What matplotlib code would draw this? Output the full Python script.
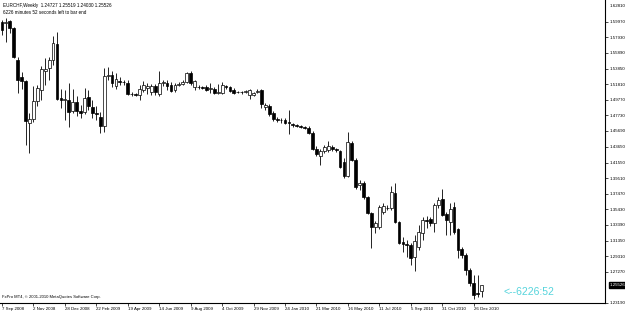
import matplotlib
matplotlib.use("Agg")
import matplotlib.pyplot as plt
import numpy as np

# weekly EURCHF bars, 7 Sep 2008 .. 9 Jan 2011
opens = [1.5993, 1.5980, 1.6006, 1.5915, 1.5496, 1.5274, 1.5222, 1.4673, 1.4725, 1.4960,
         1.5104, 1.5353, 1.5392, 1.5496, 1.5706, 1.4999, 1.4973, 1.4973, 1.4830, 1.4947,
         1.4830, 1.4817, 1.5012, 1.4882, 1.4804, 1.4751, 1.4633, 1.5287, 1.5300, 1.5157,
         1.5222, 1.5209, 1.5196, 1.5052, 1.5052, 1.5039, 1.5104, 1.5130, 1.5078, 1.5157,
         1.5052, 1.5196, 1.5196, 1.5170, 1.5104, 1.5170, 1.5183, 1.5209, 1.5326, 1.5143,
         1.5143, 1.5143, 1.5143, 1.5117, 1.5117, 1.5065, 1.5065, 1.5157, 1.5143, 1.5104,
         1.5078, 1.5078, 1.5078, 1.5039, 1.5039, 1.5078, 1.5104, 1.4882, 1.4895, 1.4804,
         1.4725, 1.4712, 1.4712, 1.4686, 1.4660, 1.4646, 1.4633, 1.4620, 1.4607, 1.4542,
         1.4333, 1.4241, 1.4307, 1.4320, 1.4359, 1.4333, 1.4307, 1.4162, 1.3979, 1.4411,
         1.4189, 1.3862, 1.3888, 1.3705, 1.3496, 1.3313, 1.3313, 1.3509, 1.3561, 1.3561,
         1.3757, 1.3378, 1.3116, 1.3090, 1.3077, 1.2920, 1.3051, 1.3234, 1.3404, 1.3417,
         1.3365, 1.3600, 1.3679, 1.3483, 1.3378, 1.3574, 1.3286, 1.3025, 1.2946, 1.2750,
         1.2580, 1.2450, 1.24727]
highs = [1.6019, 1.6045, 1.6019, 1.5928, 1.5535, 1.5340, 1.5235, 1.4804, 1.5157, 1.5170,
         1.5418, 1.5522, 1.5535, 1.5811, 1.5863, 1.5117, 1.5104, 1.5196, 1.5117, 1.5026,
         1.4908, 1.5130, 1.5104, 1.4973, 1.4895, 1.4817, 1.5392, 1.5405, 1.5353, 1.5326,
         1.5274, 1.5235, 1.5235, 1.5078, 1.5065, 1.5170, 1.5222, 1.5196, 1.5183, 1.5183,
         1.5353, 1.5235, 1.5235, 1.5209, 1.5196, 1.5209, 1.5235, 1.5340, 1.5353, 1.5235,
         1.5170, 1.5157, 1.5170, 1.5196, 1.5143, 1.5183, 1.5209, 1.5170, 1.5157, 1.5130,
         1.5091, 1.5091, 1.5104, 1.5117, 1.5078, 1.5117, 1.5117, 1.4934, 1.4921, 1.4830,
         1.4751, 1.4738, 1.4738, 1.4843, 1.4673, 1.4660, 1.4646, 1.4633, 1.4633, 1.4568,
         1.4372, 1.4333, 1.4385, 1.4437, 1.4385, 1.4346, 1.4320, 1.4215, 1.4555, 1.4437,
         1.4215, 1.3927, 1.3914, 1.3718, 1.3509, 1.3391, 1.3600, 1.3626, 1.3600, 1.3849,
         1.3888, 1.3391, 1.3182, 1.3143, 1.3103, 1.3208, 1.3339, 1.3443, 1.3456, 1.3443,
         1.3626, 1.3705, 1.3809, 1.3509, 1.3626, 1.3639, 1.3299, 1.3051, 1.2972, 1.2776,
         1.2685, 1.2685, 1.25519]
lows = [1.5824, 1.5732, 1.5850, 1.5522, 1.5065, 1.5117, 1.4385, 1.4281, 1.4686, 1.4895,
        1.4973, 1.5170, 1.5235, 1.5431, 1.4973, 1.4869, 1.4712, 1.4620, 1.4804, 1.4764,
        1.4738, 1.4790, 1.4843, 1.4738, 1.4712, 1.4542, 1.4555, 1.5235, 1.5143, 1.5117,
        1.5170, 1.5170, 1.5039, 1.5026, 1.5026, 1.4973, 1.5078, 1.5052, 1.5039, 1.5039,
        1.5026, 1.5157, 1.5104, 1.5078, 1.5078, 1.5157, 1.5170, 1.5196, 1.5170, 1.5104,
        1.5117, 1.5117, 1.5091, 1.5065, 1.5052, 1.5052, 1.5052, 1.5117, 1.5078, 1.5052,
        1.5065, 1.5052, 1.5065, 1.4986, 1.5026, 1.5065, 1.4869, 1.4843, 1.4764, 1.4699,
        1.4686, 1.4673, 1.4660, 1.4529, 1.4620, 1.4620, 1.4607, 1.4594, 1.4529, 1.4320,
        1.4241, 1.4123, 1.4281, 1.4294, 1.4307, 1.4294, 1.4084, 1.3953, 1.3966, 1.4176,
        1.3809, 1.3796, 1.3679, 1.3483, 1.3038, 1.3234, 1.3286, 1.3483, 1.3535, 1.3535,
        1.3365, 1.3090, 1.2986, 1.2920, 1.2816, 1.2737, 1.3012, 1.3143, 1.3299, 1.3326,
        1.3247, 1.3561, 1.3456, 1.3208, 1.3208, 1.3221, 1.2907, 1.2907, 1.2685, 1.2541,
        1.2365, 1.2397, 1.24030]
closes = [1.5889, 1.5993, 1.5915, 1.5535, 1.5235, 1.5222, 1.4699, 1.4725, 1.4960, 1.5130,
          1.5379, 1.5379, 1.5496, 1.5719, 1.4986, 1.4973, 1.4986, 1.4817, 1.4947, 1.4830,
          1.4804, 1.4999, 1.4895, 1.4804, 1.4790, 1.4633, 1.5287, 1.5300, 1.5196, 1.5248,
          1.5209, 1.5212, 1.5052, 1.5049, 1.5039, 1.5117, 1.5170, 1.5157, 1.5157, 1.5078,
          1.5196, 1.5209, 1.5157, 1.5091, 1.5170, 1.5183, 1.5209, 1.5326, 1.5196, 1.5222,
          1.5140, 1.5130, 1.5104, 1.5130, 1.5065, 1.5078, 1.5170, 1.5143, 1.5091, 1.5065,
          1.5075, 1.5081, 1.5091, 1.5104, 1.5065, 1.5091, 1.4921, 1.4908, 1.4790, 1.4725,
          1.4712, 1.4709, 1.4673, 1.4673, 1.4646, 1.4633, 1.4620, 1.4607, 1.4542, 1.4333,
          1.4267, 1.4307, 1.4359, 1.4372, 1.4333, 1.4320, 1.4097, 1.3979, 1.4424, 1.4189,
          1.3836, 1.3888, 1.3705, 1.3496, 1.3313, 1.3365, 1.3574, 1.3587, 1.3558, 1.3770,
          1.3378, 1.3103, 1.3090, 1.3077, 1.2907, 1.3129, 1.3247, 1.3404, 1.3391, 1.3365,
          1.3600, 1.3666, 1.3469, 1.3404, 1.3548, 1.3247, 1.3012, 1.2946, 1.2750, 1.2580,
          1.2423, 1.2437, 1.25526]

date_labels = ['7 Sep 2008', '2 Nov 2008', '28 Dec 2008', '22 Feb 2009', '19 Apr 2009',
               '14 Jun 2009', '9 Aug 2009', '4 Oct 2009', '29 Nov 2009', '24 Jan 2010',
               '21 Mar 2010', '16 May 2010', '11 Jul 2010', '5 Sep 2010', '31 Oct 2010',
               '26 Dec 2010']
date_bars = [0, 8, 16, 24, 32, 40, 48, 56, 64, 72, 80, 88, 96, 104, 112, 120]

price_labels = ['1.59970', '1.57930', '1.55890', '1.53850', '1.51810', '1.49770', '1.47730',
                '1.45690', '1.43650', '1.41550', '1.39510', '1.37470', '1.35430', '1.33390',
                '1.31350', '1.29310', '1.27270', '1.23190']
price_top = '1.62810'
last_price = 1.25526

plt.rcParams['font.family'] = ['Liberation Sans', 'DejaVu Sans']

W, H = 625, 315
fig = plt.figure(figsize=(W / 100, H / 100), dpi=100)
fig.patch.set_facecolor('white')
ax = fig.add_axes([0, 12 / H, 605 / W, 303 / H])

o = np.array(opens)
h = np.array(highs)
l = np.array(lows)
c = np.array(closes)
x = np.arange(len(o))
up = c >= o

# wicks then bodies
ax.vlines(x, l, h, color='black', lw=0.6, zorder=1)
body = np.where(np.abs(c - o) < 0.0002, 0.0002, c - o)
ax.bar(x[up], body[up], bottom=o[up], width=0.72, color='white',
       edgecolor='black', lw=0.5, zorder=2)
ax.bar(x[~up], body[~up], bottom=o[~up], width=0.72, color='black',
       edgecolor='black', lw=0.5, zorder=2)

ax.set_xlim(-0.5, 153.4)
ax.set_ylim(1.2319, 1.6281)

for s in ['left', 'top']:
    ax.spines[s].set_visible(False)
for s in ['right', 'bottom']:
    ax.spines[s].set_color('black')
    ax.spines[s].set_linewidth(0.8)

ax.yaxis.tick_right()
ax.set_yticks([float(v) for v in price_labels])
ax.set_yticklabels(price_labels)
ax.tick_params(axis='y', labelsize=3.2, length=2.5, width=0.5, pad=1)

ax.set_xticks(date_bars)
ax.set_xticklabels(date_labels)
ax.tick_params(axis='x', labelsize=3.2, length=2.5, width=0.5, pad=0.5)
for t in ax.get_xticklabels():
    t.set_ha('left')

# top scale label
ax.text(1.008, 1 - 6 / 303, price_top, transform=ax.transAxes, fontsize=3.2,
        va='center', ha='left')

# current price marker
ax.text(1.008, last_price, f'{last_price:.5f}', transform=ax.get_yaxis_transform(),
        fontsize=3.2, color='white', va='center', ha='left',
        bbox=dict(boxstyle='square,pad=0.15', fc='black', ec='black'))

fig.text(3 / W, 1 - 5 / H, 'EURCHF,Weekly  1.24727 1.25519 1.24030 1.25526',
         fontsize=3.3, va='center', ha='left')
fig.text(3 / W, 1 - 12 / H, '6226 minutes 52 seconds left to bar end',
         fontsize=3.3, va='center', ha='left')
fig.text(2 / W, 1 - 297 / H, 'FxPro MT4, \u00a9 2001-2010 MetaQuotes Software Corp.',
         fontsize=3.0, va='center', ha='left')
fig.text(503 / W, 1 - 292 / H, '<--6226:52', fontsize=7.5, color='#55d4dc',
         va='center', ha='left')

fig.savefig('out.png', dpi=100, facecolor='white')
